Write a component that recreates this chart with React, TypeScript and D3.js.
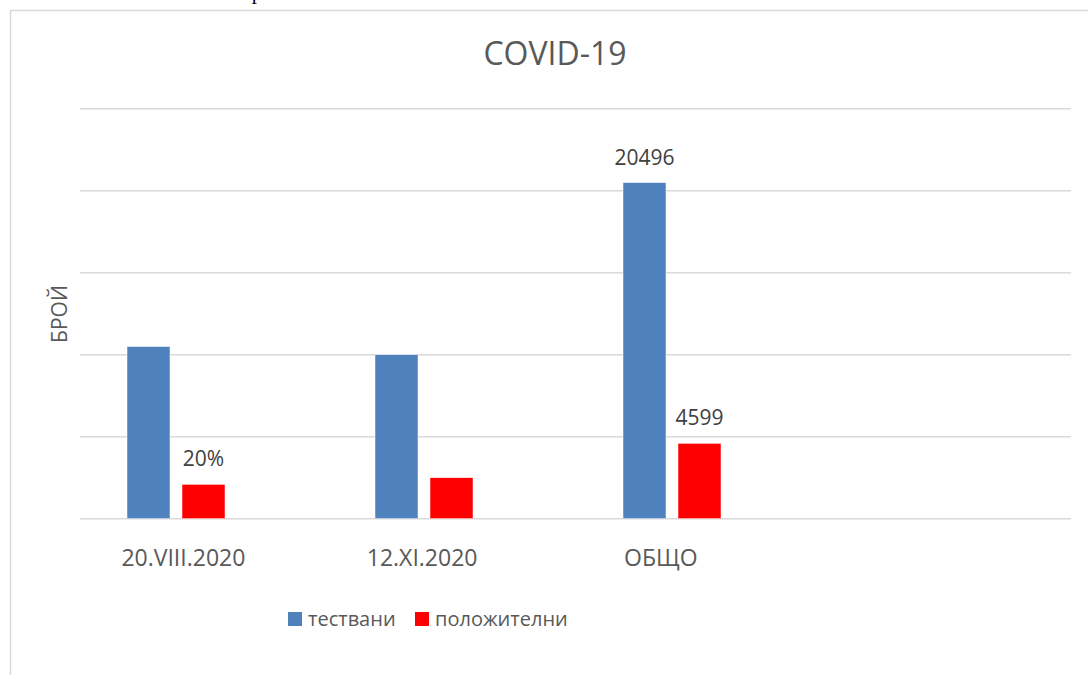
import React from "react";
import * as d3 from "d3";

// categories (last slot is empty in the source chart)
const categories = ["20.VIII.2020", "12.XI.2020", "ОБЩО", ""];
const seriesNames = ["тествани", "положителни"];
const tested = [10500, 9996, 20496];
const positive = [2098, 2501, 4599];
// data labels shown in the source (null = none)
const testedLabels = [null, null, "20496"];
const positiveLabels = ["20%", null, "4599"];
const yTicks = [0, 5000, 10000, 15000, 20000, 25000];

const colors = ["#4F81BD", "#FF0000"];
const font = "'Open Sans', 'Noto Sans', sans-serif";

export default function App() {
  const width = 1088,
    height = 675;

  const y = d3.scaleLinear().domain([0, 25000]).range([518.7, 108.7]);
  const x0 = d3.scaleBand().domain(categories).range([52, 1044]);
  // axis labels sit on a slightly tighter spacing than the bars in the source
  const xLab = d3.scaleBand().domain(categories).range([64, 1019]);
  const groupW = 98;
  const x1 = d3
    .scaleBand()
    .domain(seriesNames)
    .range([0, groupW])
    .paddingInner(12 / 55);
  const off = (x0.bandwidth() - groupW) / 2;

  const series = [
    { name: seriesNames[0], values: tested, labels: testedLabels, color: colors[0] },
    { name: seriesNames[1], values: positive, labels: positiveLabels, color: colors[1] },
  ];

  return (
    <svg
      width={width}
      height={height}
      style={{ position: "absolute", left: 0, top: 0, display: "block", background: "#fff" }}
    >
      {/* bit of page text cut off above the chart */}
      <text x={257} y={-1} fontFamily="'Liberation Serif', serif" fontSize={21} textAnchor="middle" fill="#000">
        р
      </text>

      {/* chart frame */}
      <path d={`M10.5,${height + 5}V10.5H${width + 5}`} fill="none" stroke="#d9d9d9" strokeWidth={1.5} />

      {/* title */}
      <text x={555} y={65} textAnchor="middle" fontFamily={font} fontSize={32} fill="#595959">
        COVID-19
      </text>

      {/* gridlines */}
      {yTicks.map((t) => (
        <line key={t} x1={80} x2={1071} y1={y(t)} y2={y(t)} stroke="#d9d9d9" strokeWidth={1.5} />
      ))}

      {/* bars */}
      {series.map((s) =>
        s.values.map((v, i) => {
          const bx = (x0(categories[i]) as number) + off + (x1(s.name) as number);
          return (
            <g key={s.name + i}>
              <rect
                x={bx}
                y={y(v)}
                width={x1.bandwidth()}
                height={y(0) - y(v)}
                fill={s.color}
                stroke="#ffffff"
                strokeWidth={0.5}
              />
              {s.labels[i] && (
                <text
                  x={bx + x1.bandwidth() / 2}
                  y={y(v) - 18}
                  textAnchor="middle"
                  fontFamily={font}
                  fontSize={21}
                  fill="#404040"
                >
                  {s.labels[i]}
                </text>
              )}
            </g>
          );
        })
      )}

      {/* category labels */}
      {categories.map((c) => (
        <text
          key={c}
          x={(xLab(c) as number) + xLab.bandwidth() / 2}
          y={565.5}
          textAnchor="middle"
          fontFamily={font}
          fontSize={23}
          fill="#595959"
        >
          {c}
        </text>
      ))}

      {/* y axis title */}
      <text
        transform="translate(67,314) rotate(-90)"
        textAnchor="middle"
        fontFamily={font}
        fontSize={21}
        fill="#595959"
      >
        БРОЙ
      </text>

      {/* legend */}
      <g fontFamily={font} fontSize={20} fill="#595959">
        <rect x={288} y={612} width={14} height={14} fill={colors[0]} />
        <text x={308} y={626}>{seriesNames[0]}</text>
        <rect x={415} y={612} width={14} height={14} fill={colors[1]} />
        <text x={435} y={626}>{seriesNames[1]}</text>
      </g>
    </svg>
  );
}
